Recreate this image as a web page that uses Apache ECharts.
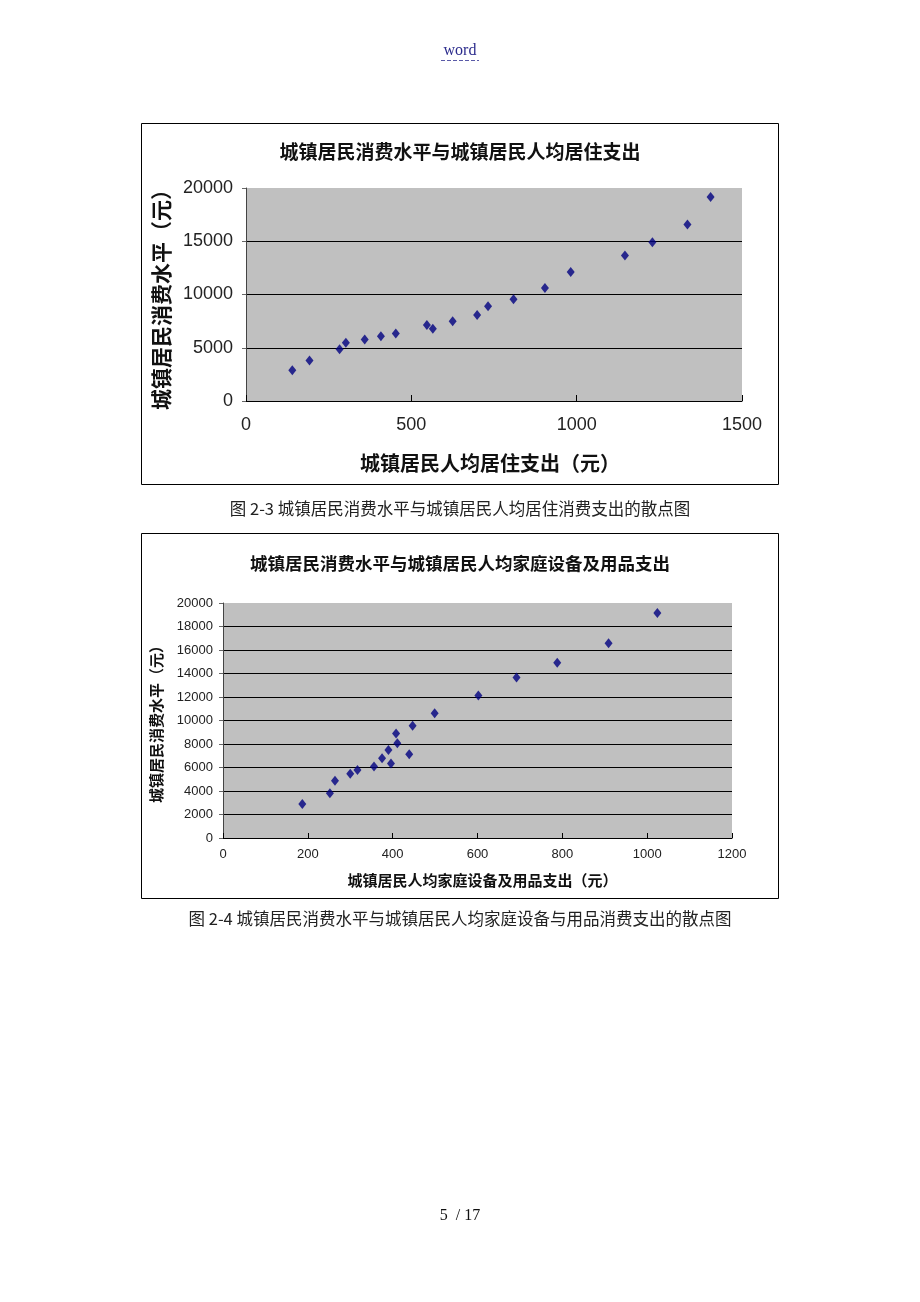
<!DOCTYPE html>
<html>
<head>
<meta charset="utf-8">
<script src="https://cdn.jsdelivr.net/npm/echarts@6/dist/echarts.min.js"></script>
<style>
html,body{margin:0;padding:0;background:#fff;}
#c{width:920px;height:1302px;}
</style>
</head>
<body>
<div id="c"></div>
<script>
// Consumption level of urban residents (yuan) — shared y values
const consumption = [2890, 3800, 4870, 5460, 5780, 6090, 6340, 7130, 6780, 7500, 8070, 8890, 9550, 10610, 12120, 13660, 14910, 16580, 19150];
// Per-capita housing expenditure (yuan), chart 2-3
const housing = [140, 192, 283, 302, 359, 408, 453, 547, 565, 625, 699, 732, 809, 904, 982, 1146, 1229, 1335, 1405];
// Per-capita household equipment & goods expenditure (yuan), chart 2-4 (same order as consumption)
const equipment = [187, 252, 264, 300, 317, 356, 396, 439, 375, 390, 411, 408, 447, 499, 602, 692, 788, 909, 1024];

const title1 = '城镇居民消费水平与城镇居民人均居住支出';
const title2 = '城镇居民消费水平与城镇居民人均家庭设备及用品支出';
const yName = '城镇居民消费水平（元）';
const xName1 = '城镇居民人均居住支出（元）';
const xName2 = '城镇居民人均家庭设备及用品支出（元）';
const caption1 = '图 2-3 城镇居民消费水平与城镇居民人均居住消费支出的散点图';
const caption2 = '图 2-4 城镇居民消费水平与城镇居民人均家庭设备与用品消费支出的散点图';

const CJK = '"Noto Sans CJK SC", sans-serif';
const NUM = '"Liberation Sans", Arial, sans-serif';

const chart = echarts.init(document.getElementById('c'), null, {renderer: 'canvas'});

function pairs(xs, ys) { return xs.map((x, i) => [x, ys[i]]); }
const plain = v => String(v);

const option = {
  backgroundColor: '#ffffff',
  animation: false,
  title: [
    {text: title1, left: 'center', top: 137, textStyle: {fontFamily: CJK, fontSize: 19, fontWeight: 'bold', color: '#111'}},
    {text: title2, left: 'center', top: 550, textStyle: {fontFamily: CJK, fontSize: 17.5, fontWeight: 'bold', color: '#111'}}
  ],
  grid: [
    {left: 246, top: 188, width: 496, height: 213, show: true, backgroundColor: '#C0C0C0', borderWidth: 0},
    {left: 223, top: 603, width: 509, height: 235, show: true, backgroundColor: '#C0C0C0', borderWidth: 0}
  ],
  xAxis: [
    {
      gridIndex: 0, type: 'value', min: 0, max: 1500, interval: 500,
      name: xName1, nameLocation: 'middle', nameGap: 52,
      nameTextStyle: {fontFamily: CJK, fontSize: 20, fontWeight: 'bold', color: '#111', padding: [0, 8, 0, 0]},
      axisLine: {show: true, onZero: false, lineStyle: {color: '#000', width: 1}},
      axisTick: {show: true, inside: true, length: 6, lineStyle: {color: '#000'}},
      axisLabel: {margin: 15, fontFamily: NUM, fontSize: 18, color: '#222', formatter: plain},
      splitLine: {show: false}
    },
    {
      gridIndex: 1, type: 'value', min: 0, max: 1200, interval: 200,
      name: xName2, nameLocation: 'middle', nameGap: 35,
      nameTextStyle: {fontFamily: CJK, fontSize: 15, fontWeight: 'bold', color: '#111', padding: [0, 0, 0, 10]},
      axisLine: {show: true, onZero: false, lineStyle: {color: '#000', width: 1}},
      axisTick: {show: true, inside: true, length: 5, lineStyle: {color: '#000'}},
      axisLabel: {margin: 10, fontFamily: NUM, fontSize: 13, color: '#222', formatter: plain},
      splitLine: {show: false}
    }
  ],
  yAxis: [
    {
      gridIndex: 0, type: 'value', min: 0, max: 20000, interval: 5000,
      name: yName, nameLocation: 'middle', nameGap: 74, nameRotate: 90,
      nameTextStyle: {fontFamily: CJK, fontSize: 21, fontWeight: 'bold', color: '#111'},
      axisLine: {show: true, onZero: false, lineStyle: {color: '#444', width: 1}},
      axisTick: {show: true, inside: false, length: 4, lineStyle: {color: '#666'}},
      axisLabel: {margin: 13, fontFamily: NUM, fontSize: 18, color: '#222', formatter: plain},
      splitLine: {show: true, showMinLine: false, showMaxLine: false, lineStyle: {color: '#000', width: 1}}
    },
    {
      gridIndex: 1, type: 'value', min: 0, max: 20000, interval: 2000,
      name: yName, nameLocation: 'middle', nameGap: 59, nameRotate: 90,
      nameTextStyle: {fontFamily: CJK, fontSize: 15, fontWeight: 'bold', color: '#111'},
      axisLine: {show: true, onZero: false, lineStyle: {color: '#444', width: 1}},
      axisTick: {show: true, inside: false, length: 4, lineStyle: {color: '#666'}},
      axisLabel: {margin: 10, fontFamily: NUM, fontSize: 13, color: '#222', formatter: plain},
      splitLine: {show: true, showMinLine: false, showMaxLine: false, lineStyle: {color: '#000', width: 1}}
    }
  ],
  series: [
    {
      type: 'scatter', xAxisIndex: 0, yAxisIndex: 0,
      data: pairs(housing, consumption),
      symbol: 'diamond', symbolSize: [8, 10],
      itemStyle: {color: '#000080'}
    },
    {
      type: 'scatter', xAxisIndex: 1, yAxisIndex: 1,
      data: pairs(equipment, consumption),
      symbol: 'diamond', symbolSize: [8, 10],
      itemStyle: {color: '#000080'}
    }
  ],
  graphic: [
    {type: 'rect', shape: {x: 141.5, y: 123.5, width: 637, height: 361}, style: {fill: null, stroke: '#000', lineWidth: 1}, silent: true, z: -1},
    {type: 'rect', shape: {x: 141.5, y: 533.5, width: 637, height: 365}, style: {fill: null, stroke: '#000', lineWidth: 1}, silent: true, z: -1},
    {type: 'text', x: 460, y: 51, style: {text: 'word', fontFamily: '"Liberation Serif", serif', fontSize: 16, fill: '#2b2b8c', align: 'center', verticalAlign: 'middle'}},
    {type: 'line', shape: {x1: 441, y1: 60.5, x2: 479, y2: 60.5}, style: {stroke: '#5a5aa8', lineWidth: 1, lineDash: [4, 2]}},
    {type: 'text', x: 460, y: 509, style: {text: caption1, fontFamily: CJK, fontSize: 16.5, fill: '#222', align: 'center', verticalAlign: 'middle'}},
    {type: 'text', x: 460, y: 919, style: {text: caption2, fontFamily: CJK, fontSize: 16.5, fill: '#222', align: 'center', verticalAlign: 'middle'}},
    {type: 'text', x: 460, y: 1216, style: {text: '5  / 17', fontFamily: '"Liberation Serif", serif', fontSize: 16, fill: '#111', align: 'center', verticalAlign: 'middle'}}
  ]
};
chart.setOption(option);
</script>
</body>
</html>
